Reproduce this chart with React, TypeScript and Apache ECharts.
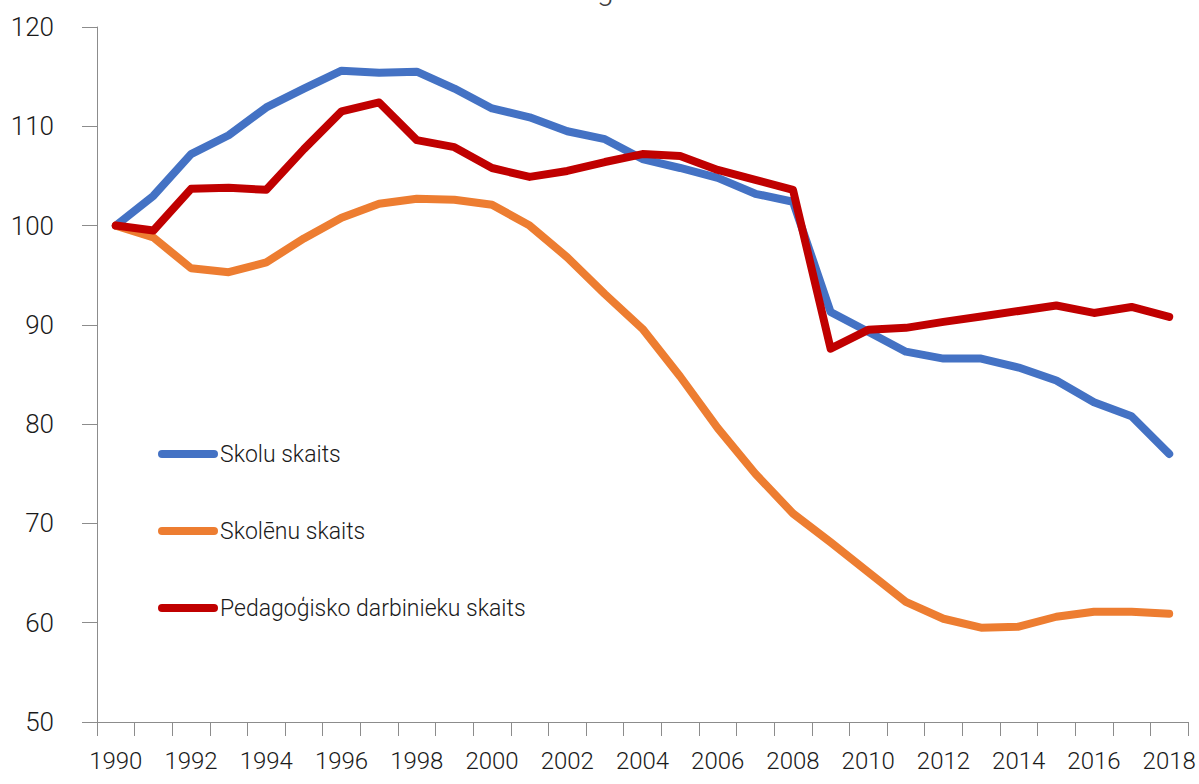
import React, { useEffect, useRef } from "react";
import * as echarts from "echarts";

const years: string[] = [
  "1990", "1991", "1992", "1993", "1994", "1995", "1996", "1997", "1998", "1999",
  "2000", "2001", "2002", "2003", "2004", "2005", "2006", "2007", "2008", "2009",
  "2010", "2011", "2012", "2013", "2014", "2015", "2016", "2017", "2018",
];

const skoluSkaits: number[] = [
  100, 103.0, 107.2, 109.1, 111.9, 113.8, 115.6, 115.4, 115.5, 113.8,
  111.8, 110.9, 109.5, 108.7, 106.7, 105.8, 104.8, 103.2, 102.4, 91.3,
  89.3, 87.3, 86.6, 86.6, 85.7, 84.4, 82.2, 80.8, 77.0,
];

const skolenuSkaits: number[] = [
  100, 98.8, 95.7, 95.3, 96.3, 98.7, 100.8, 102.2, 102.7, 102.6,
  102.1, 100.0, 96.8, 93.1, 89.6, 84.8, 79.6, 75.0, 71.0, 68.1,
  65.1, 62.1, 60.4, 59.5, 59.6, 60.6, 61.1, 61.1, 60.9,
];

const pedagoguSkaits: number[] = [
  100, 99.5, 103.7, 103.8, 103.6, 107.7, 111.5, 112.4, 108.6, 107.9,
  105.8, 104.9, 105.5, 106.4, 107.2, 107.0, 105.6, 104.6, 103.6, 87.6,
  89.5, 89.7, 90.3, 90.85, 91.4, 91.95, 91.2, 91.8, 90.8,
];

const seriesNames: string[] = ["Skolu skaits", "Skolēnu skaits", "Pedagoģisko darbinieku skaits"];
const seriesColors: string[] = ["#4472C4", "#ED7D31", "#C00000"];
const titleFragment = "g";

const FONT = 'Roboto, "Liberation Sans Narrow", sans-serif';

export default function App() {
  const ref = useRef<HTMLDivElement>(null);

  useEffect(() => {
    if (!ref.current) return;
    const chart = echarts.init(ref.current, undefined, { renderer: "svg" });
    const datasets = [skoluSkaits, skolenuSkaits, pedagoguSkaits];
    chart.setOption({
      animation: false,
      backgroundColor: "#ffffff",
      graphic: [
        {
          type: "text",
          left: 597,
          top: -26,
          style: {
            text: titleFragment,
            fontSize: 30,
            fontFamily: FONT,
            fontWeight: 300,
            fill: "#404040",
          },
        },
      ],
      legend: {
        orient: "vertical",
        left: 158,
        top: 438,
        padding: 0,
        itemGap: 45,
        itemWidth: 60,
        itemHeight: 8,
        icon: "path://M4 0H56A4 4 0 0 1 56 8H4A4 4 0 0 1 4 0Z",
        data: seriesNames,
        textStyle: {
          fontFamily: FONT,
          fontWeight: 300,
          fontSize: 23,
          lineHeight: 30,
          color: "#1a1a1a",
          padding: [2, 0, 0, -3],
        },
      },
      grid: { left: 97, right: 11, top: 27, bottom: 62, containLabel: false },
      xAxis: {
        type: "category",
        data: years,
        boundaryGap: true,
        axisLine: { lineStyle: { color: "#8c8c8c", width: 1 } },
        axisTick: { show: true, interval: 0, length: 14, lineStyle: { color: "#8c8c8c" } },
        axisLabel: {
          interval: 1,
          margin: 27,
          fontFamily: FONT,
          fontWeight: 300,
          fontSize: 24,
          color: "#1a1a1a",
        },
        splitLine: { show: false },
      },
      yAxis: {
        type: "value",
        min: 50,
        max: 120,
        interval: 10,
        axisLine: { show: true, lineStyle: { color: "#8c8c8c", width: 1 } },
        axisTick: { show: true, length: 15, lineStyle: { color: "#8c8c8c" } },
        axisLabel: {
          margin: 43,
          fontFamily: FONT,
          fontWeight: 300,
          fontSize: 26,
          color: "#1a1a1a",
        },
        splitLine: { show: false },
      },
      series: datasets.map((d, i) => ({
        name: seriesNames[i],
        type: "line",
        data: d,
        symbol: "none",
        showSymbol: false,
        color: seriesColors[i],
        lineStyle: { width: 8, color: seriesColors[i], cap: "round", join: "round" },
        itemStyle: { color: seriesColors[i] },
        z: 2 + i,
      })),
    });
    return () => chart.dispose();
  }, []);

  return (
    <div
      ref={ref}
      style={{ position: "absolute", left: 0, top: 0, width: 1199, height: 784 }}
    />
  );
}
